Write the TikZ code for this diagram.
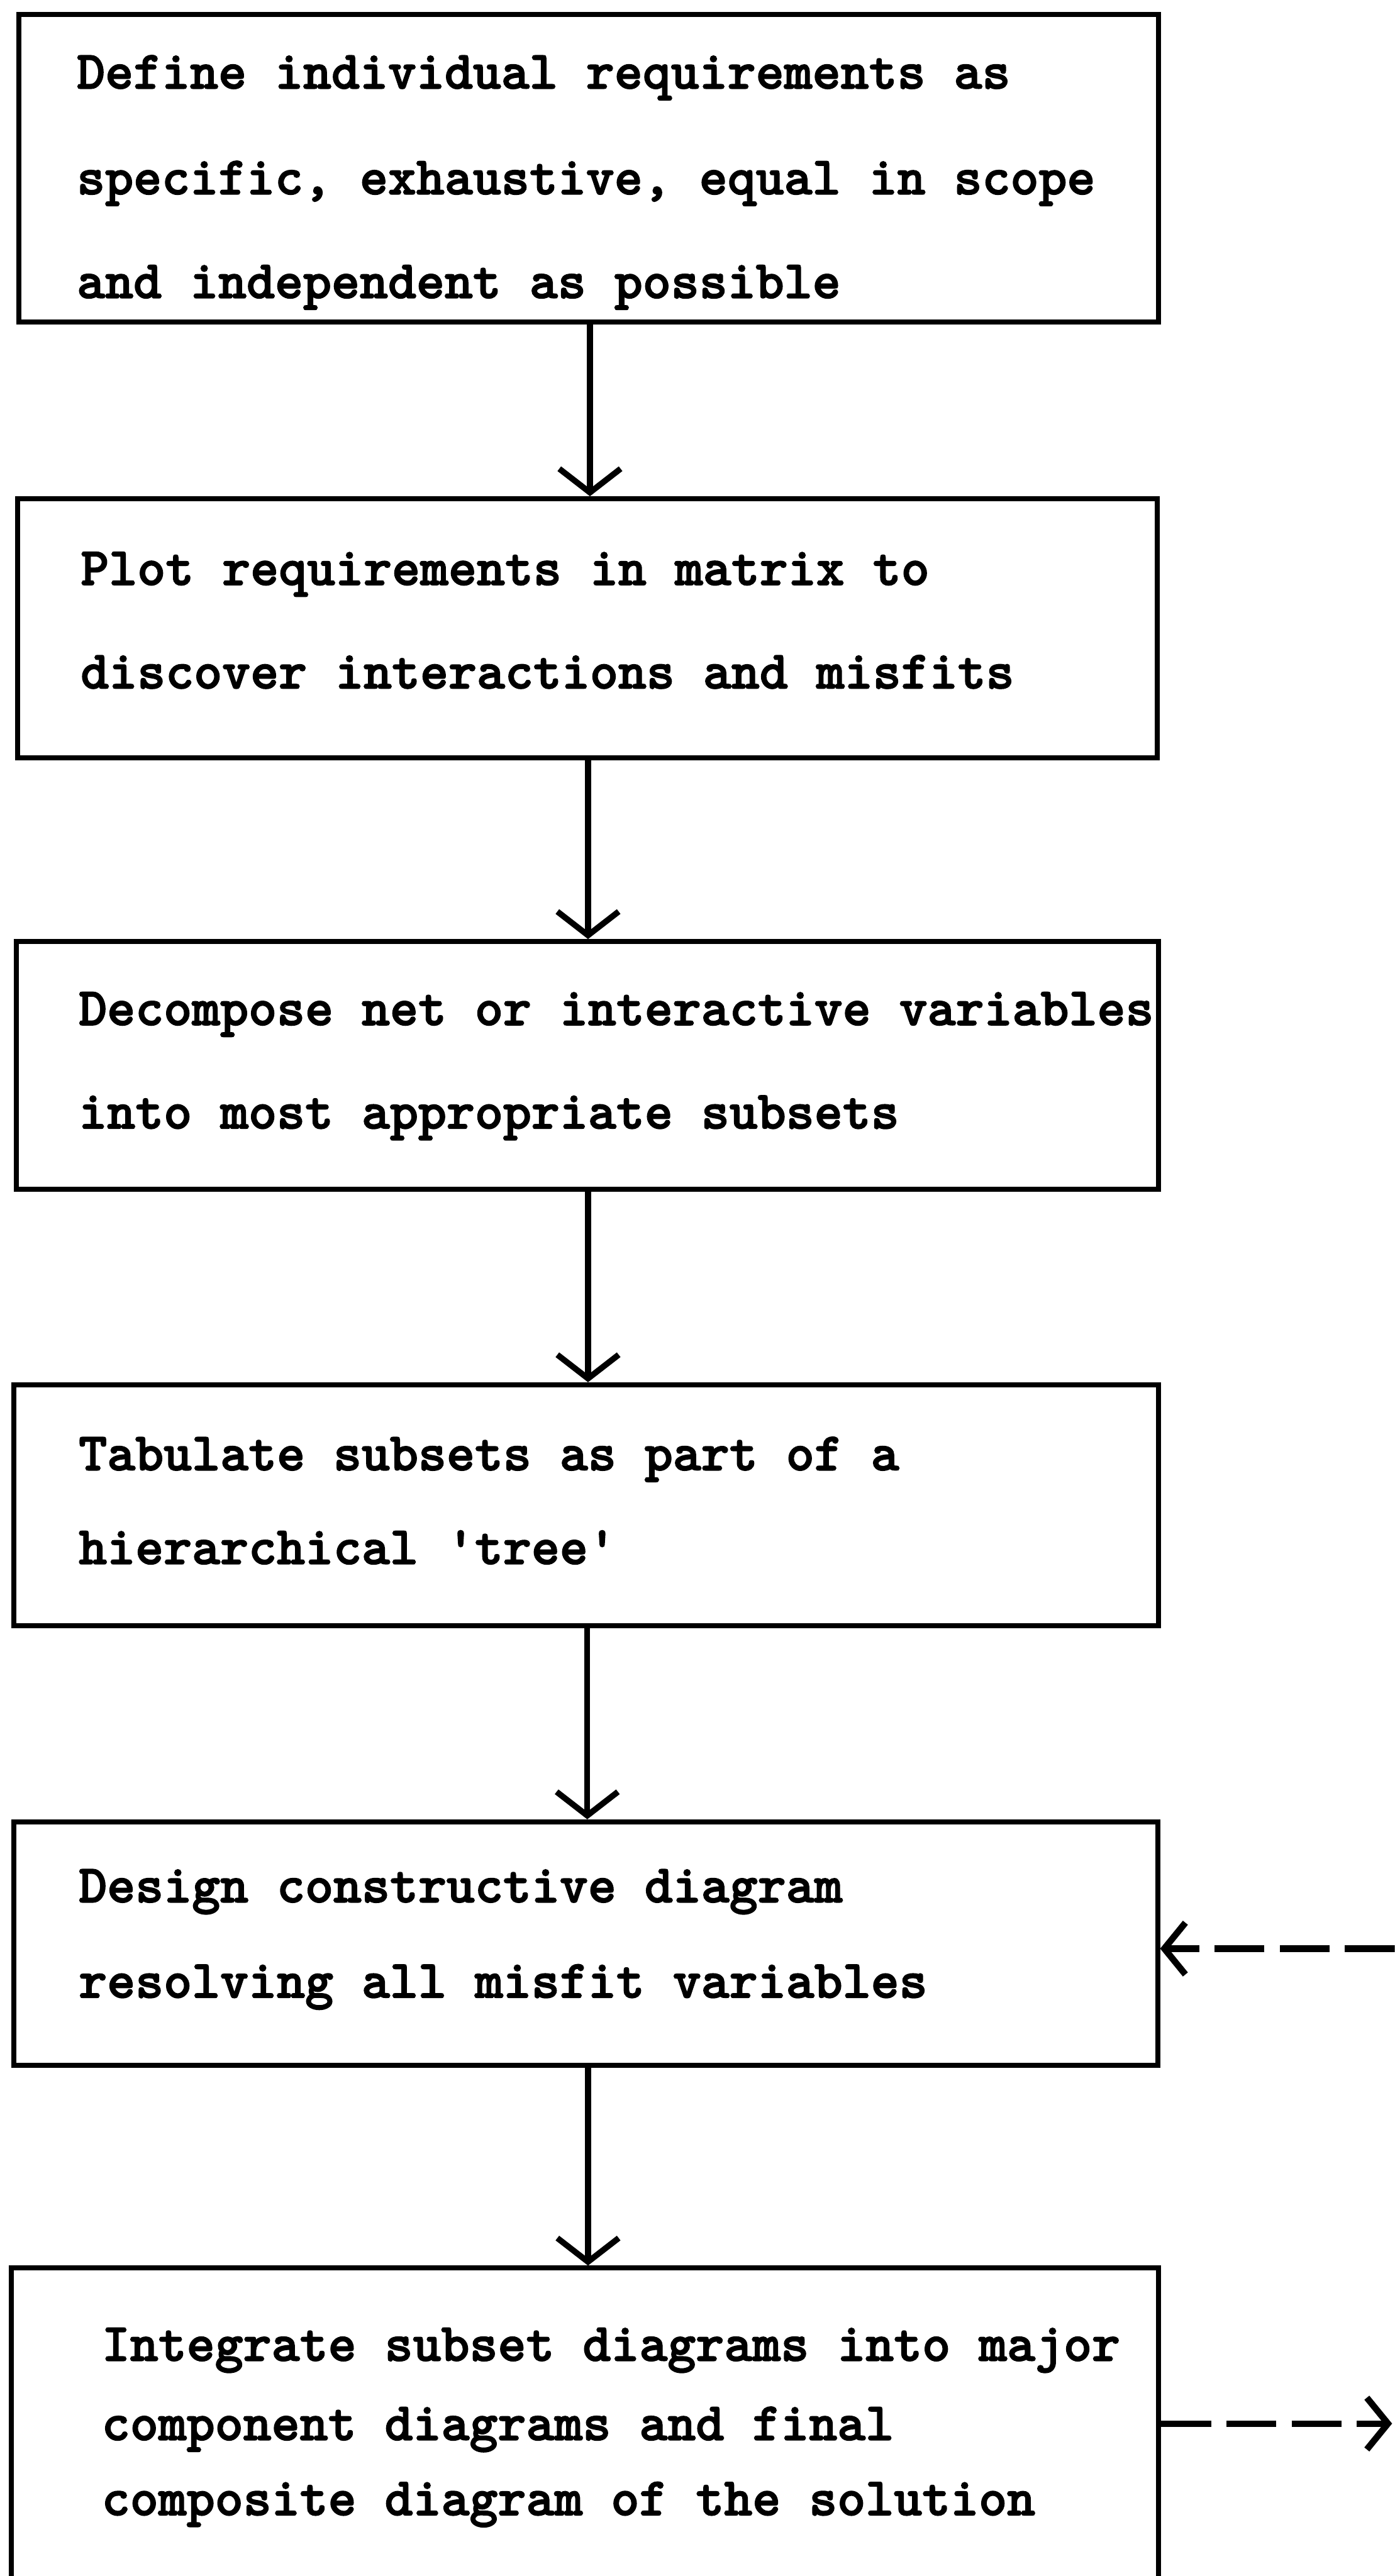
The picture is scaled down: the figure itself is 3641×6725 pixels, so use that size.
\documentclass[tikz,border=0pt]{standalone}
\usepackage{fontspec}
\usetikzlibrary{arrows.meta,fit}
% heavy typewriter face for the step texts
\newfontfamily\typewriter{lmmonolt10-bold.otf}[FakeBold=2]
\begin{document}
\begin{tikzpicture}[x=0.01cm,y=-0.01cm,
  box/.style={draw, line width=3.7pt, inner sep=0pt},
  txt/.style={anchor=base west, inner sep=0pt,
    font=\fontsize{40}{48}\selectfont\typewriter},
  flow/.style={line width=4.4pt, -{Straight Barb[length=0.62cm,width=1.6cm]}},
  dflow/.style={line width=4.8pt, dash pattern=on 1.3cm off 0.4cm,
    -{Straight Barb[length=0.55cm,width=1.35cm]}}]

% page frame
\useasboundingbox (0,0) rectangle (3641,6725);
\clip (0,0) rectangle (3641,6725);

% boxes
\node[box, fit={(50,37) (3025,841)}]    (b1) {};
\node[box, fit={(46,1302) (3021,1978)}] (b2) {};
\node[box, fit={(43,2458) (3025,3105)}] (b3) {};
\node[box, fit={(36,3615) (3025,4244)}] (b4) {};
\node[box, fit={(36,4756) (3022,5391)}] (b5) {};
\node[box, fit={(29,5921) (3025,6790)}] (b6) {};

% box texts
\node[txt] (t1a) at (200,231) {Define individual requirements as};
\node[txt] (t1b) at (200,507) {specific, exhaustive, equal in scope};
\node[txt] (t1c) at (200,778) {and independent as possible};

\node[txt] (t2a) at (210,1527) {Plot requirements in matrix to};
\node[txt] (t2b) at (210,1797) {discover interactions and misfits};

\node[txt] (t3a) at (205,2676) {Decompose net or interactive variables};
\node[txt] (t3b) at (205,2946) {into most appropriate subsets};

\node[txt] (t4a) at (205,3838) {Tabulate subsets as part of a};
\node[txt] (t4b) at (205,4083) {hierarchical 'tree'};

\node[txt] (t5a) at (205,4966) {Design constructive diagram};
\node[txt] (t5b) at (205,5215) {resolving all misfit variables};

\node[txt] (t6a) at (265,6163) {Integrate subset diagrams into major};
\node[txt] (t6b) at (265,6370) {component diagrams and final};
\node[txt] (t6c) at (265,6566) {composite diagram of the solution};

% connector positions
\coordinate (a1) at (1540,0);
\coordinate (a2) at (1535,0);
\coordinate (a3) at (1535,0);
\coordinate (a4) at (1533,0);
\coordinate (a5) at (1535,0);
\coordinate (in5) at (3641,5087);
\coordinate (out6) at (3634,6327);

% main flow
\draw[flow] (b1.south -| a1) -- (b2.north -| a1);
\draw[flow] (b2.south -| a2) -- (b3.north -| a2);
\draw[flow] (b3.south -| a3) -- (b4.north -| a3);
\draw[flow] (b4.south -| a4) -- (b5.north -| a4);
\draw[flow] (b5.south -| a5) -- (b6.north -| a5);

% feedback links
\draw[dflow] (in5) -- (b5.east |- in5);
\draw[dflow] (b6.east |- out6) -- (out6);
\end{tikzpicture}
\end{document}
